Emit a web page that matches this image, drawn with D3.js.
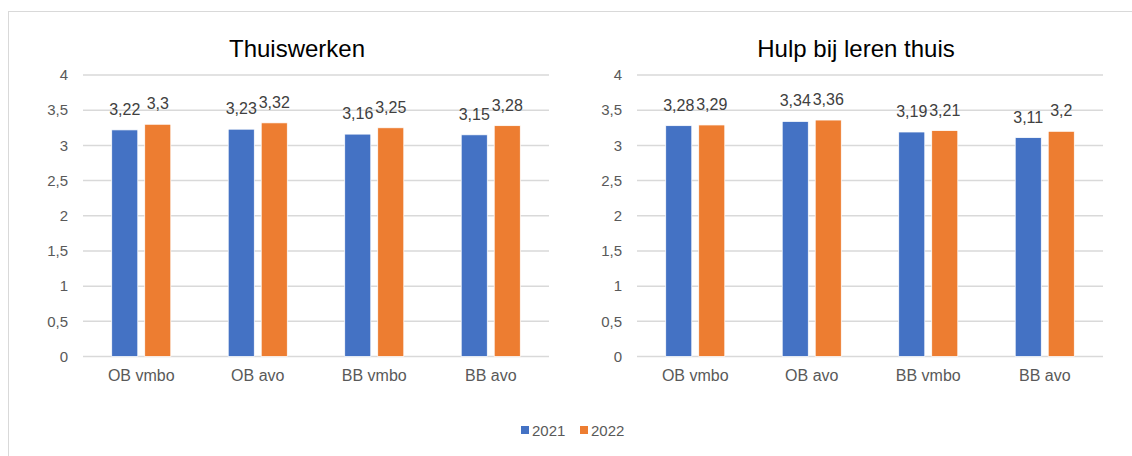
<!DOCTYPE html>
<html>
<head>
<meta charset="utf-8">
<script src="https://cdn.jsdelivr.net/npm/d3@7"></script>
<style>
  body { margin: 0; background: #fff; }
  text { font-family: "Liberation Sans", Arial, sans-serif; }
</style>
</head>
<body>
<script>
// categorieën en reeksen
const categories = ['OB vmbo', 'OB avo', 'BB vmbo', 'BB avo'];
const series = ['2021', '2022'];
const colors = ['#4472C4', '#ED7D31'];

const thuiswerken2021 = [3.22, 3.23, 3.16, 3.15];
const thuiswerken2022 = [3.30, 3.32, 3.25, 3.28];
const hulp2021 = [3.28, 3.34, 3.19, 3.11];
const hulp2022 = [3.29, 3.36, 3.21, 3.20];

const yTicks = [0, 0.5, 1, 1.5, 2, 2.5, 3, 3.5, 4];

const width = 1132;
const height = 456;

const svg = d3.select('body').append('svg').attr('width', width).attr('height', height);

// kader
svg.append('rect')
    .attr('x', 8.5).attr('y', 11.5)
    .attr('width', width).attr('height', height)
    .attr('fill', 'none').attr('stroke', '#D9D9D9').attr('stroke-width', 1);

const y = d3.scaleLinear().domain([0, 4]).range([356.5, 75]);
const fmt = function(v){ return String(v).replace('.', ','); };

function drawChart(title, titleX, left, right, values) {
    const g = svg.append('g');
    const x0 = d3.scaleBand().domain(categories).range([left, right]);
    const x1 = d3.scaleBand().domain(series).range([0, x0.bandwidth()])
                 .paddingInner(0.21).paddingOuter(0.87);

    g.append('text')
        .attr('x', titleX).attr('y', 57)
        .attr('text-anchor', 'middle')
        .attr('font-size', '24px').attr('fill', '#000')
        .text(title);

    // rasterlijnen
    g.selectAll('line.grid')
        .data(yTicks)
        .enter()
        .append('line')
        .attr('x1', left).attr('x2', right)
        .attr('y1', function(d){ return y(d); })
        .attr('y2', function(d){ return y(d); })
        .attr('stroke', '#D9D9D9').attr('stroke-width', 1.5);

    g.selectAll('text.tick')
        .data(yTicks)
        .enter()
        .append('text')
        .attr('x', left - 15)
        .attr('y', function(d){ return y(d); })
        .attr('dy', '0.35em')
        .attr('text-anchor', 'end')
        .attr('font-size', '15px').attr('fill', '#595959')
        .text(fmt);

    g.selectAll('text.cat')
        .data(categories)
        .enter()
        .append('text')
        .attr('x', function(d){ return x0(d) + x0.bandwidth() / 2; })
        .attr('y', 381)
        .attr('text-anchor', 'middle')
        .attr('font-size', '16px').attr('fill', '#595959')
        .text(function(d){ return d; });

    series.forEach(function(s, si){
        const data = values[si];
        g.selectAll('rect.s' + si)
            .data(data)
            .enter()
            .append('rect')
            .attr('x', function(d, i){ return x0(categories[i]) + x1(s); })
            .attr('y', function(d){ return y(d); })
            .attr('width', x1.bandwidth())
            .attr('height', function(d){ return y(0) - y(d); })
            .attr('fill', colors[si])
            .attr('stroke', '#fff').attr('stroke-width', 0.75);

        g.selectAll('text.l' + si)
            .data(data)
            .enter()
            .append('text')
            .attr('x', function(d, i){ return x0(categories[i]) + x1(s) + x1.bandwidth() / 2; })
            .attr('y', function(d){ return y(d) - 15; })
            .attr('text-anchor', 'middle')
            .attr('font-size', '16px').attr('fill', '#404040')
            .text(fmt);
    });
}

drawChart('Thuiswerken', 297, 83, 549, [thuiswerken2021, thuiswerken2022]);
drawChart('Hulp bij leren thuis', 856, 637, 1103, [hulp2021, hulp2022]);

// legenda
const legendX = [521, 580];
const legend = svg.selectAll('g.legend')
    .data(series)
    .enter()
    .append('g')
    .attr('transform', function(d, i){ return 'translate(' + legendX[i] + ',426)'; });
legend.append('rect')
    .attr('width', 8).attr('height', 8)
    .attr('fill', function(d, i){ return colors[i]; });
legend.append('text')
    .attr('x', 11).attr('y', 10)
    .attr('font-size', '15px').attr('fill', '#595959')
    .text(function(d){ return d; });
</script>
</body>
</html>
